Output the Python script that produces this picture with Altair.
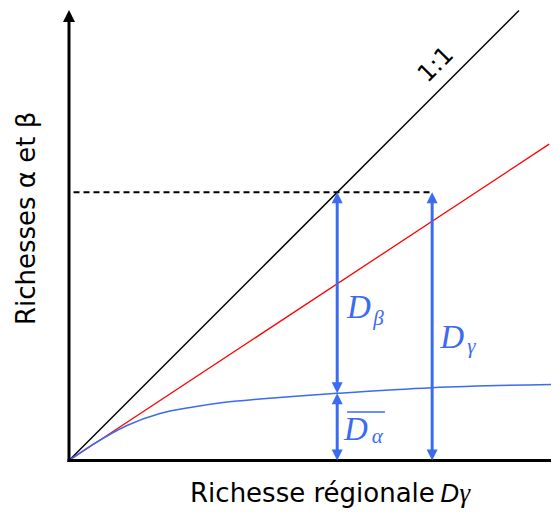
import altair as alt
import pandas as pd

# ---------------- data (chart units) ----------------
one_x = [0, 100.0]
one_y = [0, 100.0]
red_x = [0, 106.7]
red_y = [0, 70.3]
blue_x = [0, 5.33, 12.89, 20.22, 27.56, 35.11, 42.44, 51.1, 59.56, 80.67, 108.44]
blue_y = [0, 3.56, 7.78, 10.44, 11.89, 13.0, 13.67, 14.35, 14.93, 16.18, 16.93]

d_gamma = 59.6          # regional richness (x of first arrow, level of dashed line)
d_alpha_mean = 14.93    # mean alpha richness at d_gamma
gamma_arrow_x = 80.7    # x of the D-gamma arrow
dash_start = 1.0

y_axis_top = 100.1
x_axis_end = 112.0

# arrows: x, from, to
arr_x = [d_gamma, d_gamma, gamma_arrow_x]
arr_from = [d_alpha_mean, 0.0, 0.0]
arr_to = [d_gamma, d_alpha_mean, d_gamma]

# annotation texts and anchors (chart units)
big_txt = ["D", "D", "D"]
big_x = [61.8, 82.5, 61.1]
big_y = [31.7, 24.9, 4.6]
sub_txt = ["β", "γ", "α"]
sub_x = [67.6, 88.5, 67.3]
sub_y = [30.2, 24.0, 4.0]
bar_x1, bar_x2, bar_y = 61.8, 70.2, 10.8

# ---------------- layout ----------------
W, H = 543, 501
U = 4.5                     # pixels per unit
OX, OY = 61, 452.5          # origin inside the view (px)
xdom = [-OX / U, (W - OX) / U]
ydom = [-(H - OY) / U, OY / U]
BLUE = "#3a6bf0"

def X(f):
    return alt.X(f, type="quantitative", scale=alt.Scale(domain=xdom, nice=False, zero=False), axis=None)

def Y(f):
    return alt.Y(f, type="quantitative", scale=alt.Scale(domain=ydom, nice=False, zero=False), axis=None)

def line(xs, ys, color, w):
    df = pd.DataFrame({"x": xs, "y": ys})
    return alt.Chart(df).mark_line(color=color, strokeWidth=w, interpolate="monotone").encode(x=X("x"), y=Y("y"))

black = line(one_x, one_y, "black", 1.5)
red = line(red_x, red_y, "#ff0000", 1.3)
blue = line(blue_x, blue_y, BLUE, 1.5)

dash = alt.Chart(pd.DataFrame({"x": [dash_start], "x2": [gamma_arrow_x], "y": [d_gamma]})).mark_rule(
    color="black", strokeWidth=2, strokeDash=[6, 4]).encode(x=X("x"), x2="x2", y=Y("y"))

# axes
yaxis = alt.Chart(pd.DataFrame({"x": [0], "y": [-0.35], "y2": [y_axis_top]})).mark_rule(
    color="black", strokeWidth=3, y2Offset=8).encode(x=X("x"), y=Y("y"), y2="y2")
xaxis = alt.Chart(pd.DataFrame({"x": [-0.35], "x2": [x_axis_end], "y": [0]})).mark_rule(
    color="black", strokeWidth=3).encode(x=X("x"), x2="x2", y=Y("y"))
yhead = alt.Chart(pd.DataFrame({"x": [0], "y": [y_axis_top]})).mark_point(
    shape="M0,-1L1,1L-1,1Z", filled=True, size=144, color="black", opacity=1, strokeWidth=0, yOffset=6
).encode(x=X("x"), y=Y("y"))

# blue arrows
adf = pd.DataFrame({"x": arr_x, "y": arr_from, "y2": arr_to})
shafts = alt.Chart(adf).mark_rule(color=BLUE, strokeWidth=3, yOffset=-6, y2Offset=6).encode(
    x=X("x"), y=Y("y"), y2="y2")
heads_up = alt.Chart(adf).mark_point(
    shape="M0,-1L1,1L-1,1Z", filled=True, size=121, color=BLUE, opacity=1, strokeWidth=0, yOffset=5.5
).encode(x=X("x"), y=Y("y2"))
heads_dn = alt.Chart(adf).mark_point(
    shape="M0,1L1,-1L-1,-1Z", filled=True, size=121, color=BLUE, opacity=1, strokeWidth=0, yOffset=-5.5
).encode(x=X("x"), y=Y("y"))

def text(ts, xs, ys, **kw):
    df = pd.DataFrame({"t": ts, "x": xs, "y": ys})
    return alt.Chart(df).mark_text(**kw).encode(x=X("x"), y=Y("y"), text="t:N")

big = text(big_txt, big_x, big_y, font="Liberation Serif", fontStyle="italic", fontSize=33,
           color=BLUE, align="left", baseline="alphabetic")
subs = text(sub_txt, sub_x, sub_y, font="Liberation Serif", fontStyle="italic", fontSize=21,
            color=BLUE, align="left", baseline="alphabetic")
bar = alt.Chart(pd.DataFrame({"x": [bar_x1], "x2": [bar_x2], "y": [bar_y]})).mark_rule(
    color=BLUE, strokeWidth=1.5).encode(x=X("x"), x2="x2", y=Y("y"))

oneone = text(["1:1"], [81.6], [87.9], font="DejaVu Sans", fontSize=24, angle=315,
              align="center", baseline="middle", color="black")

ytitle = text(["Richesses α et β"], [-7.6], [53.8], font="DejaVu Sans", fontSize=26, angle=270,
              align="center", baseline="alphabetic", color="black")
xtitle1 = text(["Richesse régionale"], [26.9], [-9.3], font="DejaVu Sans", fontSize=26,
               align="left", baseline="alphabetic", color="black")
xtitle2 = text(["D"], [82.5], [-9.3], font="Liberation Sans", fontStyle="italic", fontSize=26,
               align="left", baseline="alphabetic", color="black")
xtitle3 = text(["γ"], [86.8], [-9.3], font="Liberation Serif", fontStyle="italic", fontSize=27,
               align="left", baseline="alphabetic", color="black")

chart = alt.layer(
    black, red, blue, dash, xaxis, yaxis, yhead, shafts, heads_up, heads_dn,
    big, subs, bar, oneone, ytitle, xtitle1, xtitle2, xtitle3
).properties(
    width=W, height=H, autosize=alt.AutoSizeParams(type="none"), padding=0, background="white"
).configure_view(strokeWidth=0)

chart.save("out.html", embed_options={"renderer": "svg", "actions": False})
